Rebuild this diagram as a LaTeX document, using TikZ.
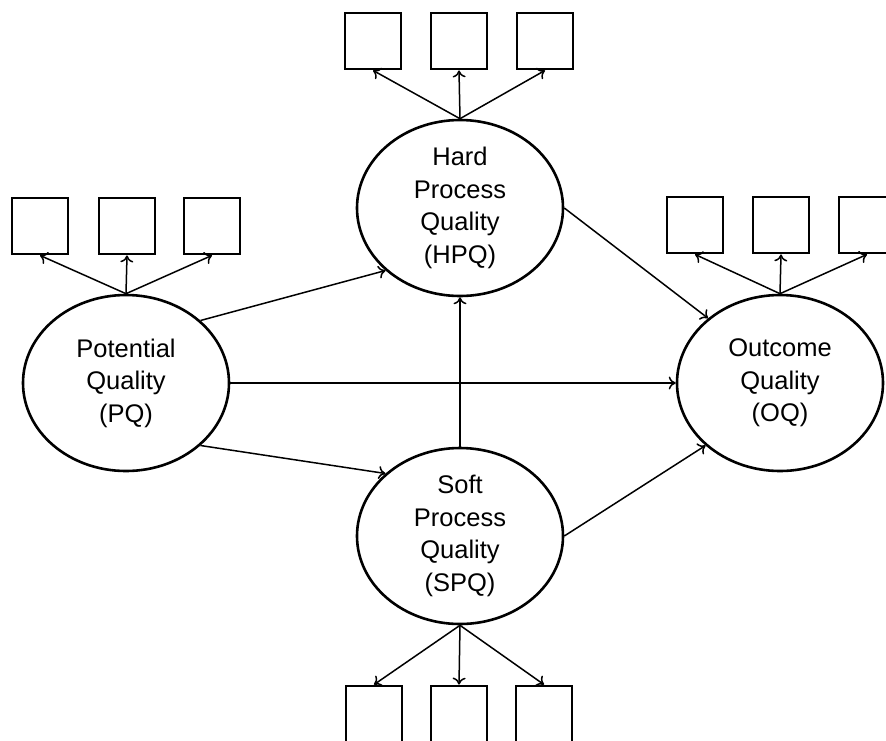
\documentclass[tikz,border=0pt]{standalone}
\usepackage{fontspec}
\setmainfont{Liberation Sans}
\usetikzlibrary{arrows.meta, shapes.geometric}

\begin{document}
\begin{tikzpicture}[x=1pt, y=-1pt,
        latent/.style={draw, ellipse, line width=2.6pt, fill=white, minimum width=206pt, minimum height=176pt, inner sep=0pt, align=center, font=\fontsize{25.5}{32.5}\selectfont},
        indicator/.style={draw, line width=2.8pt, minimum size=56pt, inner sep=0pt},
        link/.style={-{To[length=7pt, width=13pt]}, line width=1.5pt}]
        \useasboundingbox (0, 0) rectangle (886, 740);

        % constructs
        \node[latent] (PQ) at (126, 383) {Potential\\Quality\\(PQ)};
        \node[latent] (HPQ) at (460, 208) {Hard\\Process\\Quality\\(HPQ)};
        \node[latent] (SPQ) at (460, 536) {Soft\\Process\\Quality\\(SPQ)};
        \node[latent] (OQ) at (780, 383) {Outcome\\Quality\\(OQ)};

        % indicators
        \node[indicator] (h1) at (373, 41) {};
        \node[indicator] (h2) at (459, 41) {};
        \node[indicator] (h3) at (545, 41) {};
        \node[indicator] (p1) at (40, 226) {};
        \node[indicator] (p2) at (127, 226) {};
        \node[indicator] (p3) at (212, 226) {};
        \node[indicator] (o1) at (695, 225) {};
        \node[indicator] (o2) at (781, 225) {};
        \node[indicator] (o3) at (867, 225) {};
        \node[indicator] (s1) at (374, 714) {};
        \node[indicator] (s2) at (459, 714) {};
        \node[indicator] (s3) at (544, 714) {};

        \draw[link] (HPQ.north) -- (h1.south);
        \draw[link] (HPQ.north) -- (h2.south);
        \draw[link] (HPQ.north) -- (h3.south);
        \draw[link] (PQ.north) -- (p1.south);
        \draw[link] (PQ.north) -- (p2.south);
        \draw[link] (PQ.north) -- (p3.south);
        \draw[link] (OQ.north) -- (o1.south);
        \draw[link] (OQ.north) -- (o2.south);
        \draw[link] (OQ.north) -- (o3.south);
        \draw[link] (SPQ.south) -- (s1.north);
        \draw[link] (SPQ.south) -- (s2.north);
        \draw[link] (SPQ.south) -- (s3.north);

        % structural paths
        \draw[link] (PQ.40) -- (HPQ.220);
        \draw[link] (PQ.-40) -- (SPQ.140);
        \draw[link] (PQ.east) -- (OQ.west);
        \draw[link] (SPQ.north) -- (HPQ.south);
        \draw[link] (HPQ.east) -- (OQ.138);
        \draw[link] (SPQ.east) -- (OQ.220);
    \end{tikzpicture}
\end{document}
